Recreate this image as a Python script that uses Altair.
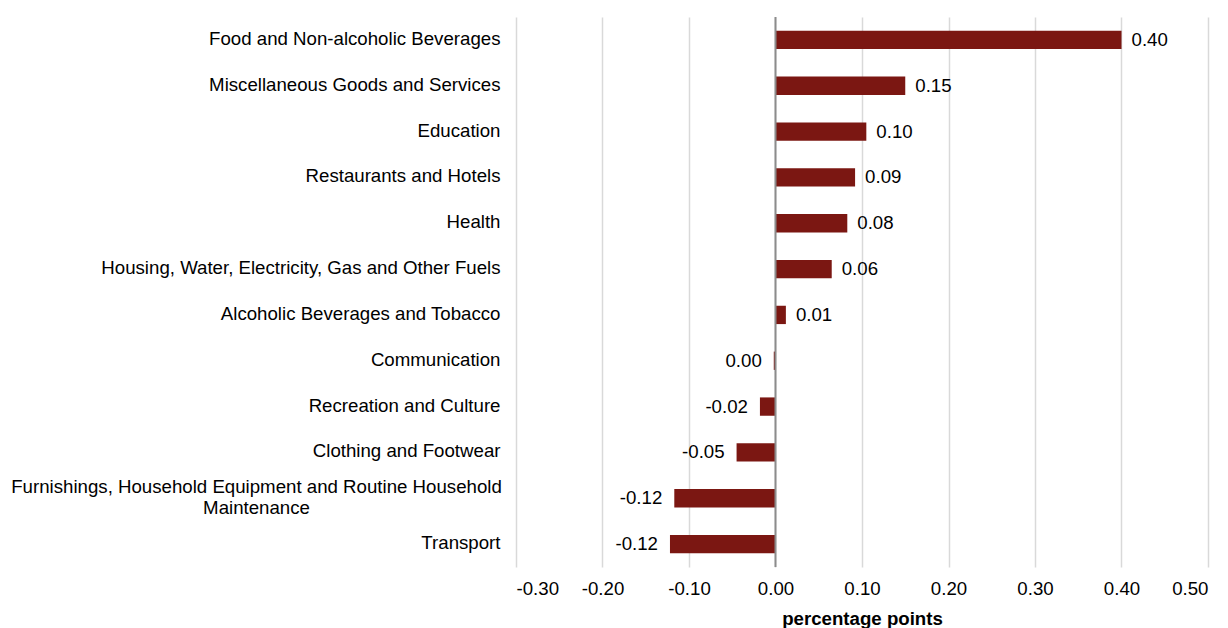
import altair as alt
import pandas as pd

categories = [
    "Food and Non-alcoholic Beverages",
    "Miscellaneous Goods and Services",
    "Education",
    "Restaurants and Hotels",
    "Health",
    "Housing, Water, Electricity, Gas and Other Fuels",
    "Alcoholic Beverages and Tobacco",
    "Communication",
    "Recreation and Culture",
    "Clothing and Footwear",
    "Furnishings, Household Equipment and Routine Household|Maintenance",
    "Transport",
]
values = [0.40, 0.15, 0.105, 0.092, 0.083, 0.065, 0.012, -0.002, -0.018, -0.045, -0.117, -0.122]
labels = ["0.40", "0.15", "0.10", "0.09", "0.08", "0.06", "0.01", "0.00", "-0.02", "-0.05", "-0.12", "-0.12"]
x_ticks = [-0.3, -0.2, -0.1, 0.0, 0.1, 0.2, 0.3, 0.4, 0.5]

df = pd.DataFrame({"cat": categories, "value": values, "label": labels})

FONT = "Liberation Sans"
FS = 18.67
RED = "#7B1712"
IS_MULTI = "indexof(datum.value, '|') >= 0"

x_enc = alt.X(
    "value:Q",
    scale=alt.Scale(domain=[-0.3, 0.5], nice=False, zero=False),
    axis=alt.Axis(
        values=x_ticks, grid=True, gridColor="#d9d9d9", gridWidth=1.5,
        labelExpr="datum.value < -0.0001 ? '-' + format(-datum.value, '.2f') : format(datum.value, '.2f')",
        domain=False, ticks=False, labelPadding=12, labelFontSize=FS, labelFont=FONT,
        labelColor="#000000", title="percentage points", titleFont=FONT,
        titleFontSize=FS, titleFontWeight="bold", titleColor="#000000", titlePadding=12,
    ),
)
y_enc = alt.Y(
    "cat:N",
    sort=categories,
    scale=alt.Scale(paddingInner=0.6, paddingOuter=0.3),
    axis=alt.Axis(
        title=None, ticks=False, domain=False, grid=False,
        labelAlign={"condition": {"test": IS_MULTI, "value": "center"}, "value": "right"},
        labelPadding={"condition": {"test": IS_MULTI, "value": 260}, "value": 16},
        labelOffset={"condition": {"test": IS_MULTI, "value": -11}, "value": -1},
        labelFontSize=FS, labelFont=FONT, labelColor="#000000",
        labelExpr="split(datum.label, '|')", labelLineHeight=21,
        minExtent=500, maxExtent=500, labelLimit=600,
    ),
)

base = alt.Chart(df)
bars = base.mark_bar(color=RED).encode(x=x_enc, y=y_enc)
pos = base.transform_filter("datum.value >= 0").mark_text(
    align="left", baseline="middle", dx=10, fontSize=FS, font=FONT, color="#000000"
).encode(x="value:Q", y=alt.Y("cat:N", sort=categories), text="label:N")
neg = base.transform_filter("datum.value < 0").mark_text(
    align="right", baseline="middle", dx=-12, fontSize=FS, font=FONT, color="#000000"
).encode(x="value:Q", y=alt.Y("cat:N", sort=categories), text="label:N")
zero = alt.Chart(pd.DataFrame({"z": [0.0]})).mark_rule(color="#8c8c8c", strokeWidth=2).encode(
    x="z:Q"
)

chart = (
    alt.layer(bars, zero, pos, neg)
    .properties(width=692, height=550, padding={"left": 2, "top": 8, "right": 5, "bottom": 5})
    .configure_view(stroke=None)
)

chart.save("out.html", embed_options={"renderer": "svg", "actions": False})
